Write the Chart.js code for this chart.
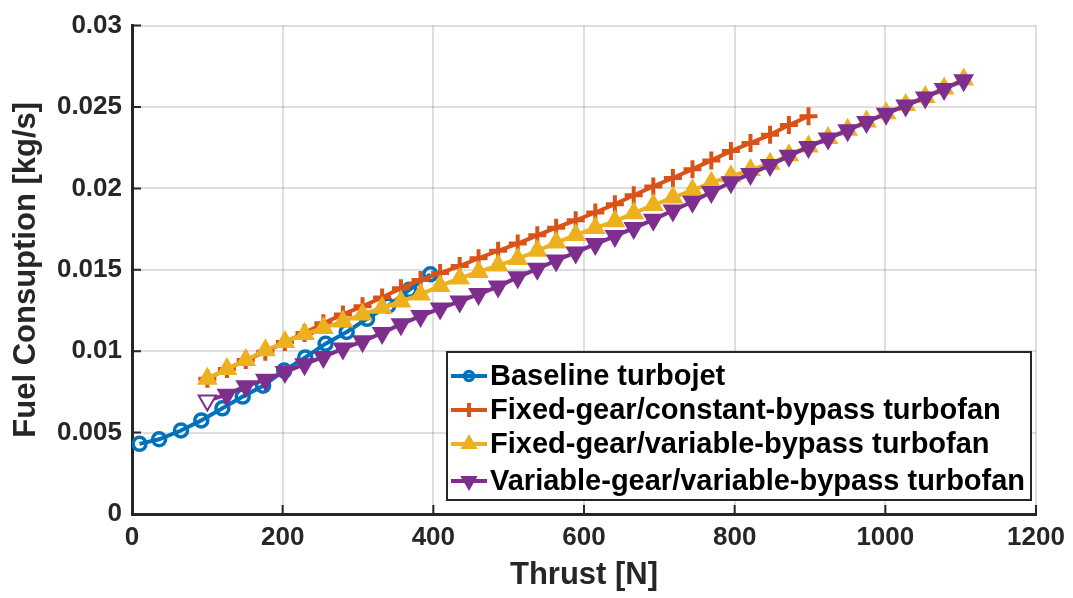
<!DOCTYPE html>
<html>
<head>
<meta charset="utf-8">
<script src="https://cdn.jsdelivr.net/npm/chart.js@4.4.0/dist/chart.umd.min.js"></script>
<style>
  html, body { margin: 0; padding: 0; background: #fff; }
  #wrap { width: 1073px; height: 598px; }
</style>
</head>
<body>
<div id="wrap"><canvas id="fuel-chart" width="1073" height="598"></canvas></div>
<script>
// ---- data ----
const seriesNames = [
  'Baseline turbojet',
  'Fixed-gear/constant-bypass turbofan',
  'Fixed-gear/variable-bypass turbofan',
  'Variable-gear/variable-bypass turbofan'
];

const baseThrust = [10, 36, 65, 92, 120, 147, 174, 202, 230, 257, 285, 312, 340, 368, 396];
const baseFuel = [0.00431, 0.00459, 0.00513, 0.00575, 0.00649, 0.00721, 0.00788, 0.00881, 0.00962,
  0.01046, 0.01118, 0.01199, 0.01279, 0.01377, 0.01472];

const fanThrust = [100, 126, 151, 177, 203, 229, 254, 280, 306, 332, 357, 383, 409, 435, 460, 486,
  512, 538, 563, 589, 615, 641, 666, 692, 718, 744, 769, 795, 821, 847, 872, 898,
  924, 950, 975, 1001, 1027, 1053, 1078, 1104];

const constBypassFuel = [0.00831, 0.00890, 0.00946, 0.00996, 0.01056, 0.01112, 0.01172, 0.01226,
  0.01276, 0.01330, 0.01387, 0.01437, 0.01480, 0.01523, 0.01571, 0.01617, 0.01661, 0.01712,
  0.01759, 0.01804, 0.01852, 0.01903, 0.01958, 0.02012, 0.02064, 0.02118, 0.02172, 0.02229,
  0.02279, 0.02329, 0.02389, 0.02443];

const varBypassFuel = [0.00831, 0.00890, 0.00946, 0.01006, 0.01056, 0.01106, 0.01142, 0.01183,
  0.01226, 0.01267, 0.01306, 0.01349, 0.01401, 0.01447, 0.01487, 0.01527, 0.01567, 0.01617,
  0.01667, 0.01713, 0.01757, 0.01798, 0.01848, 0.01898, 0.01944, 0.01988, 0.02035, 0.02074,
  0.02113, 0.02152, 0.02203, 0.02258, 0.02309, 0.02360, 0.02411, 0.02462, 0.02512, 0.02562,
  0.02614, 0.02669];

const varGearFuel = [0.00697, 0.00733, 0.00785, 0.00825, 0.00872, 0.00920, 0.00965, 0.01016,
  0.01061, 0.01112, 0.01166, 0.01216, 0.01263, 0.01306, 0.01351, 0.01397, 0.01455, 0.01506,
  0.01557, 0.01607, 0.01658, 0.01707, 0.01756, 0.01808, 0.01864, 0.01918, 0.01978, 0.02038,
  0.02089, 0.02143, 0.02200, 0.02255, 0.02306, 0.02357, 0.02408, 0.02459, 0.02509, 0.02559,
  0.02611, 0.02665];

const xTickLabels = ['0', '200', '400', '600', '800', '1000', '1200'];
const yTickLabels = ['0', '0.005', '0.01', '0.015', '0.02', '0.025', '0.03'];

// couleurs MATLAB par défaut
const colors = ['#0072BD', '#D95319', '#EDB120', '#7E2F8E'];
const FONT = '"Liberation Sans", Arial, sans-serif';
const AXIS = '#262626';

function toPoints(xs, ys) {
  return ys.map((v, i) => ({ x: xs[i], y: v }));
}

// marker shapes, also used for the legend
const markers = [
  { pointStyle: 'circle', radius: 6.5, rotation: 0, fill: false, width: 3.5 },
  { pointStyle: 'cross', radius: 9, rotation: 0, fill: false, width: 4 },
  { pointStyle: 'triangle', radius: 10, rotation: 0, fill: true, width: 2 },
  { pointStyle: 'triangle', radius: 10, rotation: 180, fill: true, width: 2 }
];

function makeDataset(i, xs, ys) {
  const m = markers[i];
  let bg = m.fill ? colors[i] : 'rgba(0,0,0,0)';
  // first purple marker is drawn hollow in the figure
  if (i === 3) bg = ys.map((v, k) => (k === 0 ? '#ffffff' : colors[i]));
  return {
    label: seriesNames[i],
    data: toPoints(xs, ys),
    borderColor: colors[i],
    borderWidth: 4,
    pointStyle: m.pointStyle,
    pointRadius: m.radius,
    pointRotation: m.rotation,
    pointBorderWidth: m.width,
    pointBorderColor: colors[i],
    pointBackgroundColor: bg,
    tension: 0,
    fill: false,
    order: 3 - i   // later series drawn on top, like MATLAB
  };
}

// ---- ticks pointing inside the axes ----
const insideTicks = {
  id: 'insideTicks',
  afterDraw(chart) {
    const { ctx, chartArea } = chart;
    const xs = chart.scales.x, ys = chart.scales.y;
    const len = 9;
    ctx.save();
    ctx.strokeStyle = AXIS;
    ctx.lineWidth = 2;
    ctx.beginPath();
    xs.ticks.forEach(t => {
      const px = xs.getPixelForValue(t.value);
      ctx.moveTo(px, chartArea.bottom);
      ctx.lineTo(px, chartArea.bottom - len);
    });
    ys.ticks.forEach(t => {
      const py = ys.getPixelForValue(t.value);
      ctx.moveTo(chartArea.left, py);
      ctx.lineTo(chartArea.left + len, py);
    });
    ctx.stroke();
    ctx.restore();
  }
};

function drawMarker(ctx, m, x, y) {
  const r = m.radius;
  ctx.beginPath();
  if (m.pointStyle === 'circle') {
    ctx.arc(x, y, r, 0, Math.PI * 2);
  } else if (m.pointStyle === 'cross') {
    ctx.moveTo(x - r, y); ctx.lineTo(x + r, y);
    ctx.moveTo(x, y - r); ctx.lineTo(x, y + r);
  } else {
    const dir = m.rotation === 180 ? -1 : 1;
    ctx.moveTo(x, y - dir * r);
    ctx.lineTo(x + r * 0.866, y + dir * r * 0.5);
    ctx.lineTo(x - r * 0.866, y + dir * r * 0.5);
    ctx.closePath();
  }
  if (m.fill) ctx.fill();
  ctx.stroke();
}

// ---- boxed legend inside the plot, bottom right ----
const boxLegend = {
  id: 'boxLegend',
  afterDraw(chart) {
    const ctx = chart.ctx;
    const left = 447, top = 352, w = 584, h = 148;
    ctx.save();
    ctx.fillStyle = '#ffffff';
    ctx.fillRect(left, top, w, h);
    ctx.strokeStyle = AXIS;
    ctx.lineWidth = 2;
    ctx.strokeRect(left, top, w, h);

    const rowY = [376, 410, 444, 481];
    seriesNames.forEach((name, i) => {
      const cy = rowY[i];
      ctx.strokeStyle = colors[i];
      ctx.fillStyle = colors[i];
      ctx.lineWidth = 4;
      ctx.beginPath();
      ctx.moveTo(451, cy);
      ctx.lineTo(487, cy);
      ctx.stroke();
      ctx.lineWidth = markers[i].width;
      drawMarker(ctx, Object.assign({}, markers[i], { radius: markers[i].radius - 2 }), 469, cy);

      ctx.fillStyle = '#000000';
      ctx.font = 'bold 29px ' + FONT;
      ctx.textBaseline = 'middle';
      ctx.textAlign = 'left';
      ctx.fillText(name, 490, cy + 1);
    });
    ctx.restore();
  }
};

const ctx = document.getElementById('fuel-chart');

new Chart(ctx, {
  type: 'line',
  data: {
    datasets: [
      makeDataset(0, baseThrust, baseFuel),
      makeDataset(1, fanThrust.slice(0, constBypassFuel.length), constBypassFuel),
      makeDataset(2, fanThrust, varBypassFuel),
      makeDataset(3, fanThrust, varGearFuel)
    ]
  },
  options: {
    responsive: false,
    animation: false,
    devicePixelRatio: 1,
    layout: { padding: { top: 15, right: 37, bottom: 0, left: 0 } },
    plugins: {
      legend: { display: false },
      tooltip: { enabled: false }
    },
    scales: {
      x: {
        type: 'linear',
        min: 0,
        max: 1200,
        ticks: {
          stepSize: 200,
          padding: 8,
          color: AXIS,
          font: { family: FONT, size: 26, weight: 'bold' },
          callback: (v, i) => xTickLabels[i]
        },
        grid: { color: 'rgba(38,38,38,0.15)', lineWidth: 2, drawTicks: false },
        border: { color: AXIS, width: 3 },
        title: {
          display: true,
          text: 'Thrust [N]',
          color: AXIS,
          padding: { top: 0, bottom: 4 },
          font: { family: FONT, size: 31, weight: 'bold' }
        },
        afterFit(scale) { scale.height = 84; }
      },
      y: {
        type: 'linear',
        min: 0,
        max: 0.03,
        ticks: {
          stepSize: 0.005,
          padding: 10,
          color: AXIS,
          font: { family: FONT, size: 26, weight: 'bold' },
          callback: (v, i) => yTickLabels[i]
        },
        grid: { color: 'rgba(38,38,38,0.15)', lineWidth: 2, drawTicks: false },
        border: { color: AXIS, width: 3 },
        title: {
          display: true,
          text: 'Fuel Consuption [kg/s]',
          color: AXIS,
          padding: { top: 8, bottom: 0 },
          font: { family: FONT, size: 31, weight: 'bold' }
        },
        afterFit(scale) { scale.width = 132; }
      }
    }
  },
  plugins: [insideTicks, boxLegend]
});
</script>
</body>
</html>
